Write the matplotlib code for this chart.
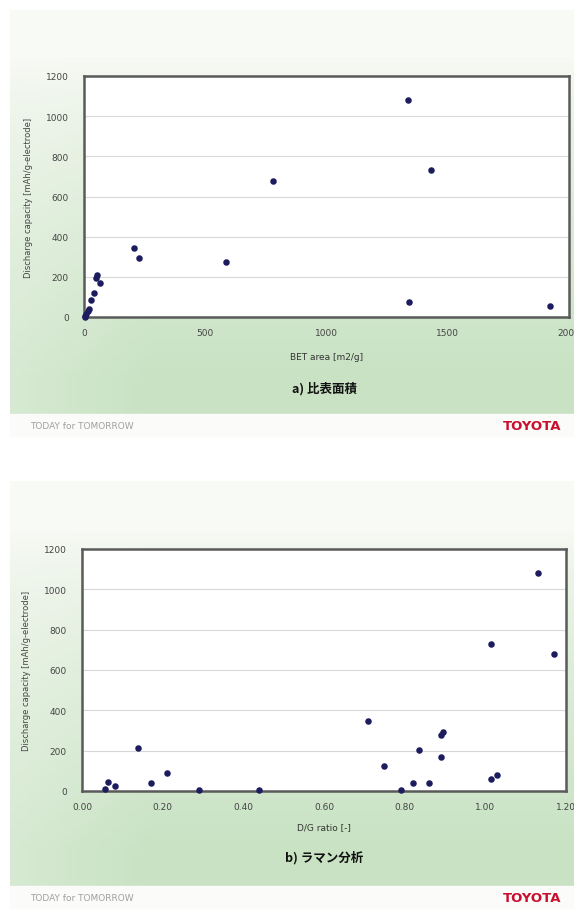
import numpy as np
import matplotlib
matplotlib.use('Agg')
import matplotlib.pyplot as plt
from matplotlib.colors import to_rgb

plt.rcParams['font.family'] = ['DejaVu Sans', 'Noto Sans CJK JP']

# a) BET area vs discharge capacity
bet_area = [3, 5, 10, 15, 20, 30, 40, 50, 52, 65, 205, 225, 585, 780, 1335, 1340, 1430, 1920]
bet_capacity = [0, 5, 15, 30, 40, 85, 120, 195, 210, 170, 345, 295, 275, 675, 1080, 75, 730, 55]

# b) D/G ratio vs discharge capacity
dg_ratio = [0.057, 0.065, 0.083, 0.14, 0.17, 0.21, 0.29, 0.44, 0.71, 0.75, 0.79, 0.82,
            0.835, 0.86, 0.89, 0.89, 0.895, 1.015, 1.015, 1.03, 1.13, 1.17]
dg_capacity = [10, 45, 25, 215, 40, 88, 5, 3, 345, 125, 5, 40,
               205, 40, 168, 278, 295, 730, 60, 78, 1080, 680]

y_ticks = [0, 200, 400, 600, 800, 1000, 1200]
bet_ticks = [0, 500, 1000, 1500, 2000]
dg_ticks = [0.0, 0.2, 0.4, 0.6, 0.8, 1.0, 1.2]

W, H = 574, 912
fig = plt.figure(figsize=(W / 100, H / 100), dpi=100)
fig.patch.set_facecolor('white')

# background slides
bg = fig.add_axes([0, 0, 1, 1], zorder=-10)
bg.set_xlim(0, W)
bg.set_ylim(H, 0)
bg.axis('off')


def slide_bg(top, height):
    h, w = 100, 100
    yy = np.linspace(0, 1, h)[:, None]
    xx = np.linspace(0, 1, w)[None, :]
    light = np.array(to_rgb('#f8faf5'))
    green = np.array(to_rgb('#c8e2c3'))
    t = np.clip((yy - 0.12) / 0.8, 0, 1) ** 0.7
    t = t * (0.7 + 0.3 * np.clip(xx / 0.25, 0, 1))
    img = light[None, None, :] * (1 - t[..., None]) + green[None, None, :] * t[..., None]
    bg.imshow(img, extent=[10, W, top + height, top], aspect='auto', zorder=0)
    bg.fill_between([10, W], top + height, top + height + 22, color='#fbfcfa', zorder=1)


slide_bg(11, 404)
slide_bg(482, 405)


def make_panel(rect, xs, ys, xticks, xfmt, xlabel, title, xlabel_y, title_y, foot_y):
    ax = fig.add_axes(rect)
    ax.set_facecolor('white')
    ax.scatter(xs, ys, s=22, color='#1c1c5e', zorder=3, linewidths=0, clip_on=False)
    ax.set_xlim(xticks[0], xticks[-1])
    ax.set_ylim(0, 1200)
    ax.set_yticks(y_ticks)
    ax.set_xticks(xticks)
    ax.set_xticklabels([xfmt(v) for v in xticks])
    ax.yaxis.grid(True, color='#d8d8d8', lw=0.8)
    ax.set_axisbelow(True)
    for sp in ax.spines.values():
        sp.set_color('#5a5a5a')
        sp.set_linewidth(1.8)
    ax.tick_params(length=0, labelsize=6.5, labelcolor='#444444')
    ax.tick_params(axis='y', pad=11)
    ax.tick_params(axis='x', pad=8)
    ax.set_ylabel('Discharge capacity [mAh/g-electrode]', fontsize=6, color='#444444', labelpad=9)
    cx = (rect[0] + rect[2] / 2) * W
    fig.text(cx / W, 1 - xlabel_y / H, xlabel, fontsize=6.5, color='#333333', ha='center', va='center')
    fig.text(324 / W, 1 - title_y / H, title, fontsize=9, fontweight='bold', color='#111111',
             ha='center', va='center', family=['Noto Sans CJK JP', 'DejaVu Sans'])
    fig.text(30 / W, 1 - foot_y / H, 'TODAY for TOMORROW', fontsize=6.5, color='#a0a0a0',
             ha='left', va='center')
    fig.text(561 / W, 1 - foot_y / H, 'TOYOTA', fontsize=9.5, fontweight='bold', color='#c8102e',
             ha='right', va='center')
    return ax


make_panel([84 / W, 1 - 318 / H, 485 / W, 241 / H], bet_area, bet_capacity, bet_ticks,
           lambda v: '%d' % v, 'BET area [m2/g]', 'a) 比表面積', 358, 389, 427)
make_panel([82 / W, 1 - 792 / H, 484 / W, 242 / H], dg_ratio, dg_capacity, dg_ticks,
           lambda v: '%.2f' % v, 'D/G ratio [-]', 'b) ラマン分析', 828, 858, 899)

fig.savefig('out.png', dpi=100)
